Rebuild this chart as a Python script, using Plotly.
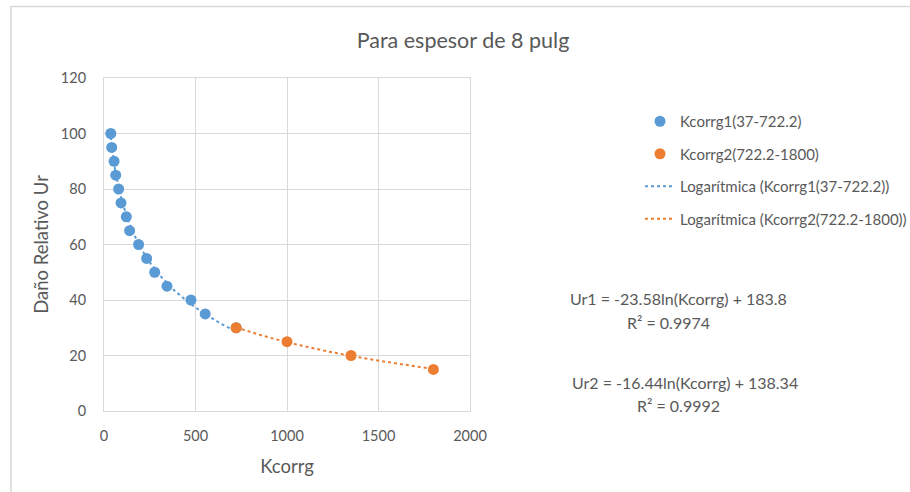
import numpy as np
import plotly.graph_objects as go

# Series 1: Kcorrg 37 - 722.2
k1 = [37, 42, 55, 64, 80, 93, 122, 140, 189, 233, 277, 344, 475, 553, 722.2]
ur1 = [100, 95, 90, 85, 80, 75, 70, 65, 60, 55, 50, 45, 40, 35, 30]

# Series 2: Kcorrg 722.2 - 1800
k2 = [722.2, 1000, 1350, 1800]
ur2 = [30, 25, 20, 15]

# Logarithmic trendline coefficients: Ur = a*ln(K) + b
a1, b1, r2_1 = -23.58, 183.8, 0.9974
a2, b2, r2_2 = -16.44, 138.34, 0.9992

x_ticks = [0, 500, 1000, 1500, 2000]
y_ticks = [0, 20, 40, 60, 80, 100, 120]

BLUE = "#5B9BD5"
ORANGE = "#ED7D31"
GRAY = "#595959"
GRID = "#D9D9D9"
FONT = "Lato"

kt1 = np.linspace(min(k1), max(k1), 200)
kt2 = np.linspace(min(k2), max(k2), 200)

fig = go.Figure()

fig.add_trace(go.Scatter(
    x=kt1, y=a1 * np.log(kt1) + b1, mode="lines",
    line=dict(color=BLUE, width=2, dash="dot"),
    name="Logarítmica (Kcorrg1(37-722.2))", legendrank=3, legendgroup="c"))
fig.add_trace(go.Scatter(
    x=kt2, y=a2 * np.log(kt2) + b2, mode="lines",
    line=dict(color=ORANGE, width=2, dash="dot"),
    name="Logarítmica (Kcorrg2(722.2-1800))", legendrank=4, legendgroup="d"))
fig.add_trace(go.Scatter(
    x=k1, y=ur1, mode="markers",
    marker=dict(color=BLUE, size=11),
    name="Kcorrg1(37-722.2)", legendrank=1, legendgroup="a"))
fig.add_trace(go.Scatter(
    x=k2, y=ur2, mode="markers",
    marker=dict(color=ORANGE, size=11),
    name="Kcorrg2(722.2-1800)", legendrank=2, legendgroup="b"))

L, R, T, B = 104, 440, 78, 81
W, H = 910, 492
pw, ph = W - L - R, H - T - B


def px(x):
    return (x - L) / pw


def py(y):
    return (H - B - y) / ph


annotations = [
    dict(text=f"Ur1 = {a1}ln(Kcorrg) + {b1}", x=px(678), y=py(298)),
    dict(text=f"R² = {r2_1}", x=px(668), y=py(322)),
    dict(text=f"Ur2 = {a2}ln(Kcorrg) + {b2}", x=px(685), y=py(382)),
    dict(text=f"R² = {r2_2}", x=px(678), y=py(405)),
]
for an in annotations:
    an.update(xref="paper", yref="paper", showarrow=False,
              xanchor="center", yanchor="middle",
              font=dict(family=FONT, size=16, color=GRAY))

fig.update_layout(
    width=W, height=H,
    margin=dict(l=L, r=R, t=T, b=B, autoexpand=False),
    paper_bgcolor="white", plot_bgcolor="white",
    font=dict(family=FONT, color=GRAY),
    title=dict(text="Para espesor de 8 pulg", x=463 / W, xanchor="center",
               y=1 - 40 / H, yanchor="middle",
               font=dict(family=FONT, size=21.5, color=GRAY)),
    showlegend=True,
    legend=dict(x=px(640), y=py(105), xanchor="left", yanchor="top",
                traceorder="grouped", tracegroupgap=10,
                font=dict(family=FONT, size=15, color=GRAY),
                bgcolor="rgba(0,0,0,0)"),
    annotations=annotations,
    shapes=[dict(type="rect", xref="paper", yref="paper",
                 x0=px(11), x1=px(W + 20), y0=py(H + 20), y1=py(6.5),
                 line=dict(color=GRID, width=1.5), fillcolor="rgba(0,0,0,0)",
                 layer="below")],
)

fig.update_xaxes(
    range=[0, 2000], tickvals=x_ticks, showgrid=True, gridcolor=GRID,
    zeroline=False, showline=True, mirror=True, linecolor=GRID, linewidth=1,
    ticks="", ticklabelstandoff=12,
    tickfont=dict(family=FONT, size=14.5, color=GRAY),
    title=dict(text="Kcorrg", standoff=16,
               font=dict(family=FONT, size=18.5, color=GRAY)))
fig.update_yaxes(
    range=[0, 120], tickvals=y_ticks, showgrid=True, gridcolor=GRID,
    zeroline=False, showline=True, mirror=True, linecolor=GRID, linewidth=1,
    ticks="", ticklabelstandoff=14,
    tickfont=dict(family=FONT, size=14.5, color=GRAY),
    title=dict(text="Daño Relativo Ur", standoff=7,
               font=dict(family=FONT, size=18.5, color=GRAY)))

fig.write_html("out.html")
